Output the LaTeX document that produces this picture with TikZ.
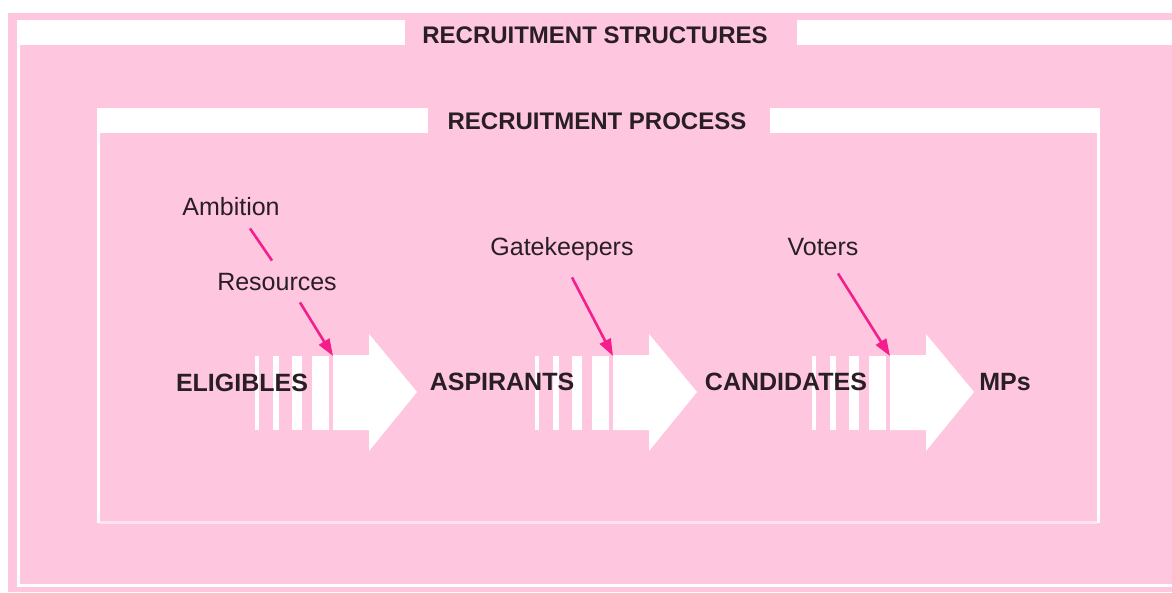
\documentclass[tikz,border=0pt]{standalone}
\usepackage{fontspec}
\setmainfont{Liberation Sans}
\usepackage{tikz}
\usetikzlibrary{arrows.meta}
\definecolor{pinkbg}{RGB}{255,198,224}
\definecolor{palepink}{RGB}{255,228,240}
\definecolor{hotpink}{RGB}{245,30,140}
\definecolor{ink}{RGB}{40,30,36}
\tikzset{
	title/.style    = {anchor=base, inner sep=0pt, text=ink,
		font=\fontsize{24}{28}\selectfont\bfseries},
	stage/.style    = {anchor=base, inner sep=2pt, text=ink,
		font=\fontsize{25}{28}\selectfont\bfseries},
	factor/.style   = {anchor=base, inner sep=2pt, text=ink,
		font=\fontsize{25}{28}\selectfont},
	pinkline/.style = {draw=hotpink, line width=2.6pt},
	frame/.style    = {draw=white, line width=3pt} % frame lines
}
\begin{document}
\begin{tikzpicture}[x=1pt, y=-1pt, >={Triangle[length=17pt,width=12pt]}]
	\useasboundingbox (0,0) rectangle (1172,592);
	% structures and process frames
	\fill[pinkbg] (8,13) rectangle (1172,592);
	\fill[white] (17,20) rectangle (405,45);
	\fill[white] (797,20) rectangle (1172,45);
	\draw[frame] (18.5,44) -- (18.5,585.5) -- (1172,585.5);
	\fill[white] (97,108) rectangle (428,133);
	\fill[white] (770,108) rectangle (1100,133);
	\draw[frame] (98.5,132) -- (98.5,522.5);
	\draw[frame] (1098.5,132) -- (1098.5,522.5);
	\draw[frame, draw=palepink] (100,522.5) -- (1097,522.5);

	% big striped arrows
	\foreach \x/\n in {333/a1,613/a2,890/a3}{
		\foreach \s/\w in {-78/4,-60/6,-41/10,-21/17}
			\fill[white] (\x+\s,356) rectangle ++(\w,74);
		\fill[white] (\x,355) -- (\x+36,355) -- (\x+36,334) -- (\x+84,392)
			-- (\x+36,451) -- (\x+36,430) -- (\x,430) -- cycle;
		\coordinate (\n) at (\x,356);
	}

	\draw
	node at (595,43) [title] (ts) {RECRUITMENT STRUCTURES}
	node at (597,129) [title] (tp) {RECRUITMENT PROCESS}
	node at (242,391) [stage] (elig) {ELIGIBLES}
	node at (502,390) [stage] (asp) {ASPIRANTS}
	node at (786,390) [stage] (cand) {CANDIDATES}
	node at (1005,390) [stage] (mps) {MPs}
	node at (231,215) [factor] (amb) {Ambition}
	node at (277,290) [factor] (res) {Resources}
	node at (562,255) [factor] (gate) {Gatekeepers}
	node at (823,255) [factor] (vot) {Voters};

	\draw[pinkline] ([shift={(19,11)}]amb.south) -- ([shift={(-5,-10)}]res.north);
	\draw[pinkline,->] ([shift={(23,10)}]res.south) -- (a1);
	\draw[pinkline,->] ([shift={(10,15)}]gate.south) -- (a2);
	\draw[pinkline,->] ([shift={(15,16)}]vot.south) -- (a3);
\end{tikzpicture}
\end{document}
